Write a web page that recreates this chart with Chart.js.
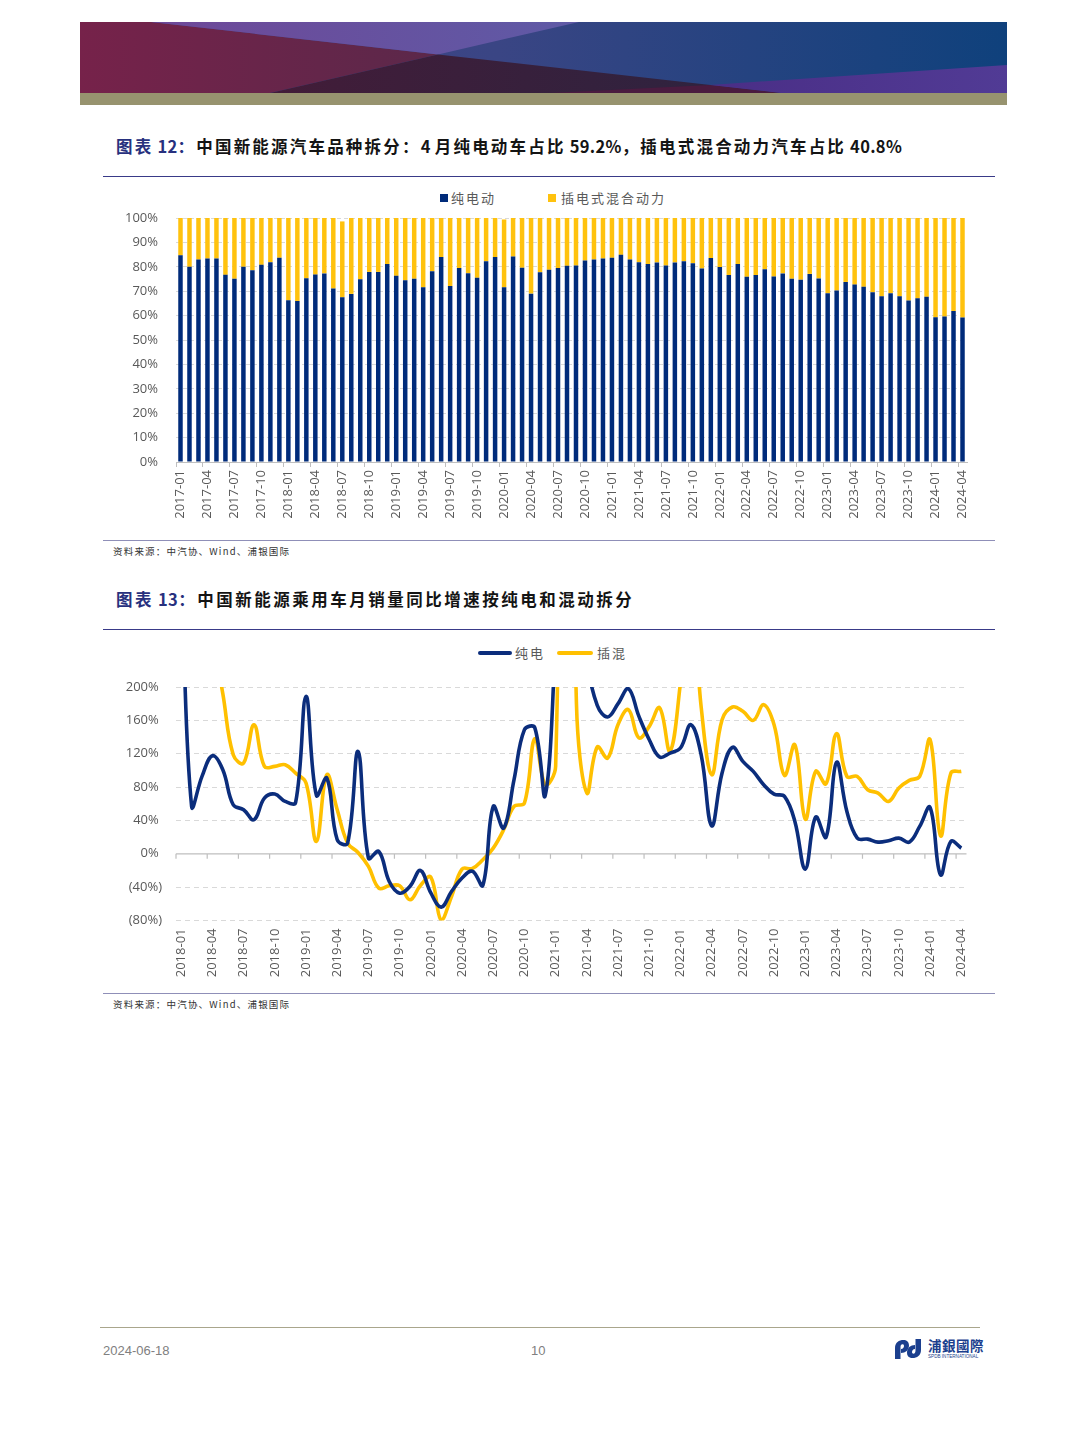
<!DOCTYPE html>
<html><head><meta charset="utf-8">
<script src="https://cdn.jsdelivr.net/npm/chart.js@4.4.1/dist/chart.umd.min.js"></script>
<style>
html,body{margin:0;padding:0;background:#fff;}
#page{position:relative;width:1080px;height:1440px;overflow:hidden;font-family:"Noto Sans CJK SC","Noto Sans",sans-serif;background:#fff;}
.abs{position:absolute;}
.title{left:116px;font-size:16.5px;font-weight:700;color:#141414;letter-spacing:2.2px;white-space:nowrap;line-height:20px;}
.title .lab{color:#27307E;}
.title .lt{letter-spacing:0.3px;}
.rule{left:103px;width:892px;height:0;}
.src{left:113px;font-size:9.5px;color:#333;letter-spacing:1.2px;white-space:nowrap;line-height:12px;}
.leg{font-size:13px;color:#595959;letter-spacing:2px;white-space:nowrap;line-height:16px;}
.box{width:8px;height:8px;}
.chartbox{left:103px;width:892px;height:360px;}
</style></head>
<body><div id="page">

<svg class="abs" style="left:80px;top:22px" width="927" height="71" viewBox="0 0 927 71" preserveAspectRatio="none">
  <defs>
    <linearGradient id="gBlue" x1="0" x2="1" y1="0" y2="0">
      <stop offset="0" stop-color="#40448A"/><stop offset="0.45" stop-color="#3A4584"/><stop offset="1" stop-color="#0F417C"/>
    </linearGradient>
    <linearGradient id="gMaroon" x1="0" x2="1" y1="0" y2="0">
      <stop offset="0" stop-color="#76224A"/><stop offset="1" stop-color="#5B284A"/>
    </linearGradient>
    <linearGradient id="gPurple" x1="0" x2="1" y1="0" y2="0">
      <stop offset="0" stop-color="#6E4898"/><stop offset="1" stop-color="#5F5AA6"/>
    </linearGradient>
    <linearGradient id="gDark" x1="0" x2="1" y1="0" y2="0">
      <stop offset="0" stop-color="#421C38"/><stop offset="1" stop-color="#2C2440"/>
    </linearGradient>
    <linearGradient id="gStrip" x1="0" x2="1" y1="0" y2="0">
      <stop offset="0" stop-color="#4A2E86"/><stop offset="1" stop-color="#513B95"/>
    </linearGradient>
  </defs>
  <rect x="0" y="0" width="927" height="71" fill="url(#gBlue)"/>
  <polygon points="0,0 71,0 358,32.4 190,71 0,71" fill="url(#gMaroon)"/>
  <polygon points="71,0 499,0 358,32.4" fill="url(#gPurple)"/>
  <polygon points="358,32.4 701,71 190,71" fill="url(#gDark)"/>
  <polygon points="470,71 630,63 701,71" fill="#4A1B3F"/>
  <polygon points="630,63 927,43 927,71 701,71" fill="url(#gStrip)"/>
</svg>
<div class="abs" style="left:80px;top:93px;width:927px;height:12px;background:#97936F"></div>

<div class="abs title" style="top:136px"><span class="lab">图表<span class="lt"> 12</span>：</span>中国新能源汽车品种拆分：<span class="lt">4 </span>月纯电动车占比<span class="lt"> 59.2%</span>，插电式混合动力汽车占比<span class="lt"> 40.8%</span></div>
<div class="abs rule" style="top:176px;border-top:1.4px solid #393A88"></div>

<div class="abs box" style="left:440px;top:194px;background:#002B7A"></div>
<div class="abs leg" style="left:451px;top:190px">纯电动</div>
<div class="abs box" style="left:548px;top:194px;background:#FFC20E"></div>
<div class="abs leg" style="left:561px;top:190px">插电式混合动力</div>
<div class="abs chartbox" style="top:180px"><canvas id="c12"></canvas></div>

<div class="abs rule" style="top:540px;border-top:1px solid #8F8FB8"></div>
<div class="abs src" style="top:545px">资料来源：中汽协、Wind、浦银国际</div>

<div class="abs title" style="top:589px;letter-spacing:2.5px"><span class="lab">图表<span class="lt"> 13</span>：</span>中国新能源乘用车月销量同比增速按纯电和混动拆分</div>
<div class="abs rule" style="top:629px;border-top:1.4px solid #393A88"></div>

<div class="abs" style="left:478px;top:651px;width:34px;height:3.5px;background:#0B2D7C;border-radius:2px"></div>
<div class="abs leg" style="left:515px;top:645px">纯电</div>
<div class="abs" style="left:557px;top:651px;width:36px;height:3.5px;background:#FFC000;border-radius:2px"></div>
<div class="abs leg" style="left:597px;top:645px">插混</div>
<div class="abs chartbox" style="top:633px"><canvas id="c13"></canvas></div>

<div class="abs rule" style="top:993px;border-top:1px solid #8F8FB8"></div>
<div class="abs src" style="top:998px">资料来源：中汽协、Wind、浦银国际</div>

<div class="abs" style="left:100px;top:1327px;width:880px;height:0;border-top:1.5px solid #A9A68C"></div>
<div class="abs" style="left:103px;top:1343px;font-family:'Liberation Sans',Arial,sans-serif;font-size:13px;color:#808080;line-height:16px">2024-06-18</div>
<div class="abs" style="left:531px;top:1343px;font-family:'Liberation Sans',Arial,sans-serif;font-size:13px;color:#808080;line-height:16px">10</div>
<svg class="abs" style="left:892px;top:1337px" width="32" height="24" viewBox="0 0 32 24">
  <path d="M3,22 L3,11 C3,5.5 7,3 11.5,3 C15.5,3 17,5.5 17,8.5 C17,13 13.5,16 9,16 L9,12 C11,12 12,10.5 12,9 C12,7.8 11.4,7.3 10.5,7.3 C9.2,7.3 8.5,8.5 8.5,10.5 L8.5,22 Z" fill="#1B3F8E"/>
  <path d="M29,2 L29,13 C29,18.5 25,21 20.5,21 C16.5,21 15,18.5 15,15.5 C15,11 18.5,8 23,8 L23,12 C21,12 20,13.5 20,15 C20,16.2 20.6,16.7 21.5,16.7 C22.8,16.7 23.5,15.5 23.5,13.5 L23.5,2 Z" fill="#1B3F8E"/>
</svg>
<div class="abs" style="left:928px;top:1337px;font-size:13.5px;font-weight:700;color:#1B3F8E;line-height:16px;letter-spacing:0.5px">浦銀國際</div>
<div class="abs" style="left:928px;top:1354px;font-family:'Liberation Sans',Arial,sans-serif;font-size:4.6px;color:#1B3F8E;line-height:6px;white-space:nowrap">SPDB INTERNATIONAL</div>

</div>
<script>
// ---------- Chart 12 data ----------
const months12 = [
"2017-01","2017-02","2017-03","2017-04","2017-05","2017-06","2017-07","2017-08","2017-09","2017-10","2017-11","2017-12",
"2018-01","2018-02","2018-03","2018-04","2018-05","2018-06","2018-07","2018-08","2018-09","2018-10","2018-11","2018-12",
"2019-01","2019-02","2019-03","2019-04","2019-05","2019-06","2019-07","2019-08","2019-09","2019-10","2019-11","2019-12",
"2020-01","2020-02","2020-03","2020-04","2020-05","2020-06","2020-07","2020-08","2020-09","2020-10","2020-11","2020-12",
"2021-01","2021-02","2021-03","2021-04","2021-05","2021-06","2021-07","2021-08","2021-09","2021-10","2021-11","2021-12",
"2022-01","2022-02","2022-03","2022-04","2022-05","2022-06","2022-07","2022-08","2022-09","2022-10","2022-11","2022-12",
"2023-01","2023-02","2023-03","2023-04","2023-05","2023-06","2023-07","2023-08","2023-09","2023-10","2023-11","2023-12",
"2024-01","2024-02","2024-03","2024-04"];
const bevShare = [
84.7,80.0,83.0,83.4,83.4,76.7,75.1,80.0,78.6,80.8,81.9,83.7,
66.3,66.0,75.3,76.8,77.3,71.1,67.5,68.9,74.9,77.9,77.9,81.1,
76.3,74.5,75.1,71.6,78.2,84.0,72.1,79.5,77.4,75.5,82.3,84.0,
71.6,84.2,79.6,69.0,77.8,78.8,79.5,80.4,80.5,82.6,83.0,83.4,
83.7,84.9,83.0,81.9,81.1,81.8,80.5,81.8,82.3,81.5,79.3,83.6,
79.9,76.6,81.1,75.9,76.6,79.0,76.0,77.3,75.1,74.7,77.1,75.2,
69.2,70.3,73.8,72.7,71.8,69.6,67.9,69.2,67.9,66.2,67.1,67.7,
59.3,59.6,61.9,59.2];
const phevShare = [
15.3,20.0,17.0,16.6,16.6,23.3,24.9,20.0,21.4,19.2,18.1,16.3,
33.7,34.0,24.7,23.2,22.7,28.9,31.1,31.1,25.1,22.1,22.1,18.9,
23.7,25.5,24.9,28.4,21.8,16.0,27.9,20.5,22.6,24.5,17.7,16.0,
27.8,15.8,20.4,31.0,22.2,21.2,20.5,19.6,19.5,17.4,17.0,16.6,
16.3,15.1,17.0,18.1,18.9,18.2,19.5,18.2,17.7,18.5,20.7,16.4,
20.1,23.4,18.9,24.1,23.4,21.0,24.0,22.7,24.9,25.3,22.9,24.8,
30.8,29.7,26.2,27.3,28.2,30.4,32.1,30.8,32.1,33.8,32.9,32.3,
40.7,40.4,38.1,40.8];
const shareTicks = [0,10,20,30,40,50,60,70,80,90,100];

// ---------- Chart 13 data ----------
const months13 = [
"2018-01","2018-02","2018-03","2018-04","2018-05","2018-06","2018-07","2018-08","2018-09","2018-10","2018-11","2018-12",
"2019-01","2019-02","2019-03","2019-04","2019-05","2019-06","2019-07","2019-08","2019-09","2019-10","2019-11","2019-12",
"2020-01","2020-02","2020-03","2020-04","2020-05","2020-06","2020-07","2020-08","2020-09","2020-10","2020-11","2020-12",
"2021-01","2021-02","2021-03","2021-04","2021-05","2021-06","2021-07","2021-08","2021-09","2021-10","2021-11","2021-12",
"2022-01","2022-02","2022-03","2022-04","2022-05","2022-06","2022-07","2022-08","2022-09","2022-10","2022-11","2022-12",
"2023-01","2023-02","2023-03","2023-04","2023-05","2023-06","2023-07","2023-08","2023-09","2023-10","2023-11","2023-12",
"2024-01","2024-02","2024-03","2024-04"];
const bevYoY = [
350,56.8,92.8,117.6,100.8,58.8,52.8,40.8,66.8,71.6,62.8,61.6,
188.8,70,90.8,16.8,12.8,122.8,-5.2,2.8,-33.2,-47.2,-39,-20,
-47,-64,-45,-29,-21,-38,56.8,30.8,88.8,148.8,151,70,
265,600,320,230,178,164,180,198,165,136.8,116,120.8,
126.8,154.8,118,33.6,96.8,127.6,110.8,98.8,82.8,71.6,68.8,38.8,
-18.4,44,20,109.6,50.8,18.8,17.6,14,15.6,18.8,14,32.8,
55.6,-25.2,14.8,6.8];
const phevYoY = [
420,360,300,260,192,118.8,108.8,154.8,104.8,104.8,106.8,96.8,
84.8,14.8,94.8,52.8,12.8,1.6,-15.2,-41.2,-38.4,-38.4,-55.2,-38,
-28,-80,-51,-18.4,-17.6,-7.2,6.8,28.8,56.8,60.8,138,82.8,
105,1000,180,72.8,128,114.8,155,172.8,139,152.8,175,123,
205,320,175,94.8,160.8,176,170.8,160,178.8,154.8,94,130.8,
41.6,98.8,84,144,92.8,92.8,76.8,72.8,62.8,78.8,88,92.8,
136.8,21.6,96.8,98.8];
const yoyTicks = [-80,-40,0,40,80,120,160,200];

const NAVY = '#002B7A', GOLD = '#FFC20E';
const LNAVY = '#0B2D7C', LGOLD = '#FFC000';
const AXIS = '#BFBFBF', GRID = '#D9D9D9', TXT = '#595959';

Chart.defaults.font.family = '"Open Sans","Noto Sans",sans-serif';
Chart.defaults.font.size = 13;
Chart.defaults.color = TXT;
Chart.defaults.animation = false;

const every3 = function(val, idx){ return idx % 3 === 0 ? this.getLabelForValue(val) : ''; };

new Chart(document.getElementById('c12'), {
  type: 'bar',
  data: {
    labels: months12,
    datasets: [
      {label:'纯电动', data: bevShare, backgroundColor: NAVY, barPercentage: 0.5, categoryPercentage: 1},
      {label:'插电式混合动力', data: phevShare, backgroundColor: GOLD, barPercentage: 0.5, categoryPercentage: 1}
    ]
  },
  options: {
    responsive: true, maintainAspectRatio: false,
    layout: {padding: {top: 38, right: 28, bottom: 0, left: 0}},
    plugins: {legend: {display: false}, tooltip: {enabled: false}},
    scales: {
      x: {
        stacked: true,
        afterFit(s){ s.height = 78; },
        border: {display: true, color: AXIS, width: 1},
        grid: {display: true, drawOnChartArea: false, drawTicks: true, tickLength: 5,
               color: c => (c.index % 3 === 0 ? AXIS : 'rgba(0,0,0,0)'),
               tickColor: c => (c.index % 3 === 0 ? AXIS : 'rgba(0,0,0,0)')},
        ticks: {autoSkip: false, maxRotation: 90, minRotation: 90, padding: 3, callback: every3, color: TXT}
      },
      y: {
        stacked: true, min: 0, max: 100,
        afterFit(s){ s.width = 73; },
        afterBuildTicks(s){ s.ticks = shareTicks.map(v => ({value: v})); },
        border: {display: false, dash: [4,3]},
        grid: {color: GRID, drawTicks: false, lineWidth: 1},
        ticks: {padding: 18, callback: v => v + '%', color: TXT}
      }
    }
  }
});

const zeroAxis = {
  id: 'zeroAxis',
  beforeDatasetsDraw(chart){
    const {ctx, chartArea: a, scales: {x, y}} = chart;
    const y0 = y.getPixelForValue(0);
    const half = (x.getPixelForValue(1) - x.getPixelForValue(0)) / 2;
    ctx.save();
    ctx.strokeStyle = AXIS; ctx.lineWidth = 1.2;
    ctx.beginPath();
    ctx.moveTo(a.left, y0); ctx.lineTo(a.right, y0);
    for (let i = 0; i < months13.length; i += 3) {
      const px = x.getPixelForValue(i) - half;
      ctx.moveTo(px, y0); ctx.lineTo(px, y0 + 5);
    }
    ctx.stroke();
    ctx.restore();
  }
};

new Chart(document.getElementById('c13'), {
  type: 'line',
  data: {
    labels: months13,
    datasets: [
      {label:'纯电', data: bevYoY, borderColor: LNAVY, borderWidth: 3.6, pointRadius: 0, tension: 0.4, fill: false},
      {label:'插混', data: phevYoY, borderColor: LGOLD, borderWidth: 3.6, pointRadius: 0, tension: 0.4, fill: false}
    ]
  },
  plugins: [zeroAxis],
  options: {
    responsive: true, maintainAspectRatio: false,
    layout: {padding: {top: 54, right: 28.5, bottom: 0, left: 0}},
    plugins: {legend: {display: false}, tooltip: {enabled: false}},
    scales: {
      x: {
        offset: true,
        afterFit(s){ s.height = 72.5; },
        border: {display: false},
        grid: {display: false, drawTicks: false},
        ticks: {autoSkip: false, maxRotation: 90, minRotation: 90, padding: 8, callback: every3, color: TXT}
      },
      y: {
        min: -80, max: 200,
        afterFit(s){ s.width = 73; },
        afterBuildTicks(s){ s.ticks = yoyTicks.map(v => ({value: v})); },
        border: {display: false, dash: [5,4]},
        grid: {color: c => (c.tick && c.tick.value === 0 ? 'rgba(0,0,0,0)' : GRID), drawTicks: false, lineWidth: 1},
        ticks: {padding: 14, callback: v => (v < 0 ? '(' + (-v) + '%)' : v + '%\u2005'), color: TXT}
      }
    }
  }
});
</script>
</body></html>
